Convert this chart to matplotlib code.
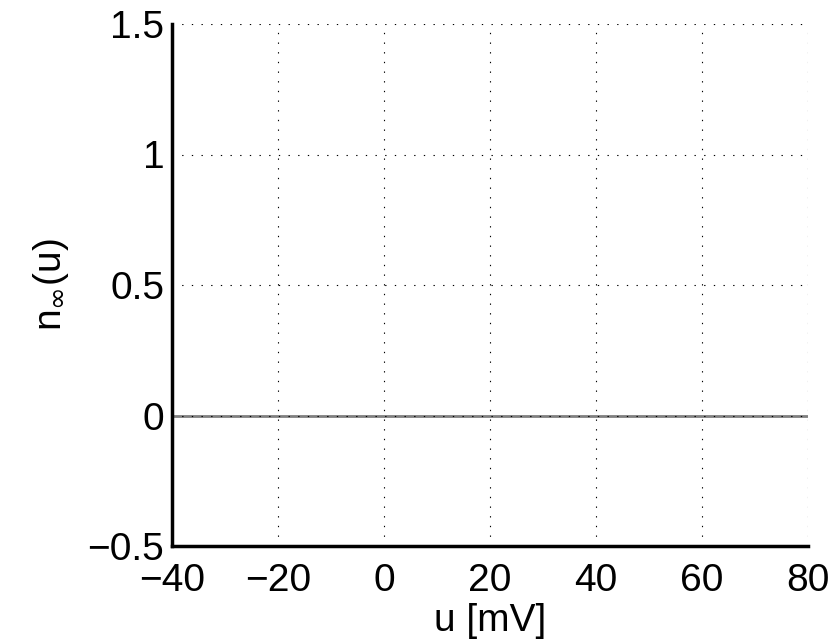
import numpy as np
import matplotlib.pyplot as plt

plt.rcParams['font.family'] = ['Liberation Sans', 'DejaVu Sans']
plt.rcParams['mathtext.fontset'] = 'custom'
plt.rcParams['mathtext.rm'] = 'Liberation Sans'
plt.rcParams['mathtext.it'] = 'Liberation Sans'
plt.rcParams['mathtext.sf'] = 'DejaVu Sans'

# data (flat line at zero)
u = [-40, 80]
n_inf = [0, 0]

xticks = [-40, -20, 0, 20, 40, 60, 80]
yticks = [-0.5, 0, 0.5, 1, 1.5]
yticklabels = ['\u22120.5', '0', '0.5', '1', '1.5']
xticklabels = ['\u221240', '\u221220', '0', '20', '40', '60', '80']

fig = plt.figure(figsize=(8.34, 6.41), dpi=100)
ax = fig.add_axes([172/834, 95/641, 636/834, 522/641])

ax.plot(u, n_inf, color='#808080', linewidth=2, zorder=1)

ax.set_xlim(-40, 80)
ax.set_ylim(-0.5, 1.5)
ax.set_xticks(xticks)
ax.set_xticklabels(xticklabels)
ax.set_yticks(yticks)
ax.set_yticklabels(yticklabels)
ax.tick_params(labelsize=28, length=0)
ax.tick_params(axis='x', pad=12)
ax.tick_params(axis='y', pad=5.5)

ax.grid(True, linestyle=(0, (1.2, 7.5)), color='black', linewidth=0.8, zorder=2)
ax.set_axisbelow(False)

for s in ['top', 'right']:
    ax.spines[s].set_visible(False)
for s in ['left', 'bottom']:
    ax.spines[s].set_linewidth(2.5)

ax.set_xlabel('u [mV]', fontsize=28, labelpad=3)
ax.set_ylabel(r'n$_{\mathsf{\infty}}$(u)', fontsize=28, labelpad=12)

fig.savefig('out.png', dpi=100)
